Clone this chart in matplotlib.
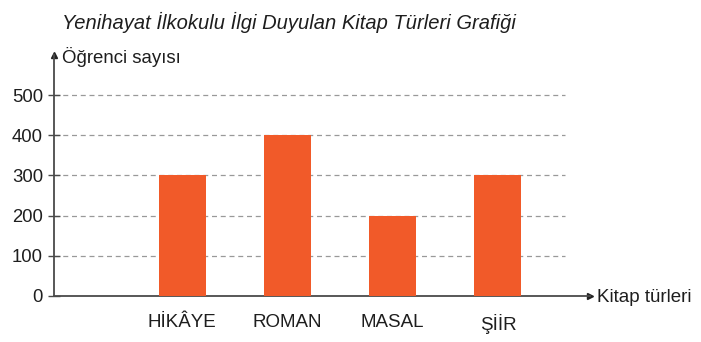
import matplotlib.pyplot as plt

# Kitap türleri ve öğrenci sayıları
turler = ['HİKÂYE', 'ROMAN', 'MASAL', 'ŞİİR']
ogrenci = [300, 400, 200, 300]
y_ticks = [0, 100, 200, 300, 400, 500]

plt.rcParams['font.family'] = ['Liberation Sans', 'DejaVu Sans']

bar_color = '#F15A29'
axis_color = '#4a4a4a'
text_color = '#1e1e1e'

fig = plt.figure(figsize=(7.01, 3.42), dpi=100)
ax = fig.add_axes([54 / 701, 46 / 342, 536 / 701, 241 / 342])

x = range(len(turler))
ax.bar(x, ogrenci, width=0.446, color=bar_color, zorder=3)

ax.set_xlim(-1.216, 3.874)
ax.set_ylim(0, 600)

# kesikli yatay çizgiler
ax.hlines(y_ticks[1:], -1.216, 3.637, colors='#999999', linestyles=(0, (4, 3)),
          linewidth=0.9, zorder=1)

ax.set_yticks(y_ticks)
ax.set_yticklabels([str(v) for v in y_ticks], fontsize=13.3, color=text_color)
ax.set_xticks(list(x))
ax.set_xticklabels(turler, fontsize=13.5, color=text_color)
ax.tick_params(axis='x', length=0, pad=13)
ax.tick_params(axis='y', direction='inout', length=8, width=1, color=axis_color, pad=4)

for s in ['top', 'right']:
    ax.spines[s].set_visible(False)
for s in ['left', 'bottom']:
    ax.spines[s].set_color(axis_color)
    ax.spines[s].set_linewidth(1.3)

# eksen okları
ax.plot(1, 0, '>', color='#222222', markersize=5, transform=ax.transAxes, clip_on=False)
ax.plot(0, 1, '^', color='#222222', markersize=5, transform=ax.transAxes, clip_on=False)

fig.text(62 / 701, 1 - 22 / 342, 'Yenihayat İlkokulu İlgi Duyulan Kitap Türleri Grafiği',
         fontsize=14.5, style='italic', va='center', ha='left', color=text_color)
fig.text(62 / 701, 1 - 57 / 342, 'Öğrenci sayısı', fontsize=13.4, va='center', ha='left',
         color=text_color)
fig.text(597 / 701, 1 - 297 / 342, 'Kitap türleri', fontsize=13.5, va='center', ha='left',
         color=text_color)

fig.savefig('out.png', dpi=100)
